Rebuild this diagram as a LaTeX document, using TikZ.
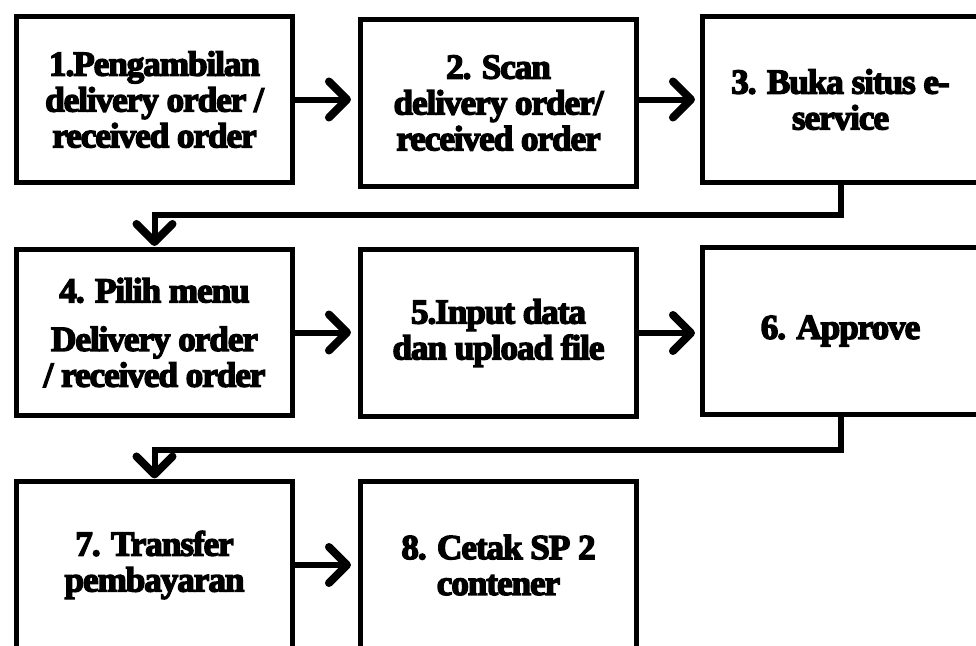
\documentclass[tikz,border=0pt]{standalone}
\usepackage{fontspec}
\setmainfont{Liberation Serif}[BoldFeatures={FakeBold=4,LetterSpace=-3}]
\usetikzlibrary{arrows.meta}

\begin{document}
\begin{tikzpicture}[x=0.025cm,y=-0.025cm,
    stepbox/.style={draw,line width=0.125cm,inner sep=0pt,
      minimum width=6.9cm,minimum height=4.15cm,align=center,
      font=\fontsize{25}{25.5}\selectfont\bfseries},
    flowarrow/.style={line width=0.15cm,
      -{Straight Barb[length=0.45cm,width=0.9cm,round,line width=0.2cm]}}]
  \useasboundingbox (0,0) rectangle (976,646);
  \clip (0,0) rectangle (976,646);
  % row 1
  \node[stepbox] (Pengambilan) at (154.5,99.5) {1.Pengambilan\\delivery order /\\received order};
  \node[stepbox] (Scan) at (498.5,103) {2. Scan\\delivery order/\\received order};
  \node[stepbox] (Situs) at (840.5,99.5) {3. Buka situs e-\\service};
  % row 2
  \node[stepbox] (Menu) at (154.5,332.5) {4. Pilih menu\\[9pt]Delivery order\\/ received order};
  \node[stepbox] (Input) at (498.5,333) {5.Input data\\dan upload file};
  \node[stepbox] (Approve) at (840.5,331) {6. Approve};
  % row 3
  \node[stepbox] (Transfer) at (154.5,565) {7. Transfer\\pembayaran};
  \node[stepbox] (Cetak) at (498.5,565) {8. Cetak SP 2\\contener};

  \draw[flowarrow,shorten >=0.175cm] (Pengambilan.east) -- (Scan.west |- Pengambilan.east);
  \draw[flowarrow,shorten >=0.125cm] (Scan.east |- Situs.west) -- (Situs.west);
  \draw[flowarrow,shorten >=0.025cm] (Situs.south) -- ++(0,30) -| (Menu.north);
  \draw[flowarrow,shorten >=0.175cm] (Menu.east) -- (Input.west |- Menu.east);
  \draw[flowarrow,shorten >=0.125cm] (Input.east) -- (Approve.west |- Input.east);
  \draw[flowarrow,shorten >=0.025cm] (Approve.south) -- ++(0,33) -| (Transfer.north);
  \draw[flowarrow,shorten >=0.175cm] (Transfer.east) -- (Cetak.west);
\end{tikzpicture}
\end{document}
